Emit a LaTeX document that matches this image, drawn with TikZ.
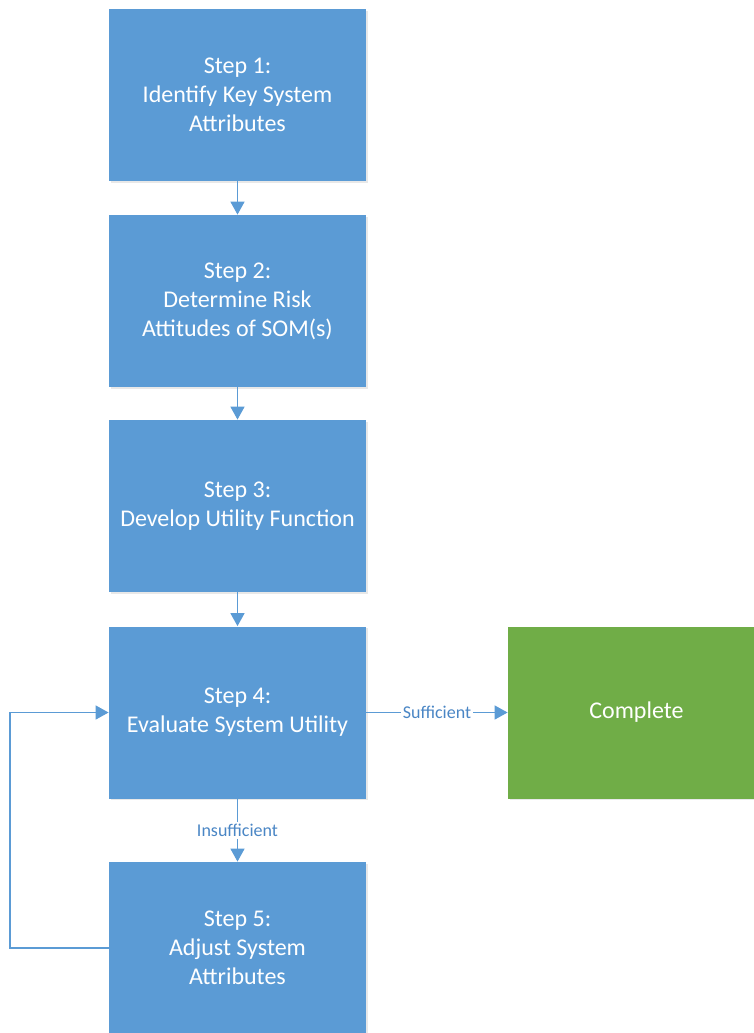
\documentclass[tikz,border=0pt]{standalone}
\usepackage{fontspec}
\setmainfont{Carlito}
\usetikzlibrary{arrows.meta,shadows}
\definecolor{stepblue}{HTML}{5B9BD5}
\definecolor{donegreen}{HTML}{70AD47}
\definecolor{flowblue}{HTML}{5B9BD5}
\definecolor{labelblue}{HTML}{4A86C5}
\tikzset{
  stepbox/.style={fill=stepblue, text=white, align=center, inner sep=0pt,
    minimum width=128.5pt, minimum height=86pt,
    drop shadow={opacity=0.18, shadow xshift=0.8pt, shadow yshift=-0.8pt}},
  donebox/.style={stepbox, fill=donegreen},
  flow/.style={draw=flowblue, line width=0.75pt, -{Triangle[width=7pt,length=6.5pt]}},
  flowlabel/.style={fill=white, text=labelblue, inner sep=1pt, font=\fontsize{9}{10}\selectfont}
}
\begin{document}
\begin{tikzpicture}[x=0.5pt, y=-0.5pt, every node/.style={font=\fontsize{12}{14.5}\selectfont}]
\useasboundingbox (0,0) rectangle (754,1033);
\clip (0,0) rectangle (754,1033);
\node[stepbox] (S1) at (237.5,95) {Step 1:\\Identify Key System\\Attributes};
\node[stepbox] (S2) at (237.5,301) {Step 2:\\Determine Risk\\Attitudes of SOM(s)};
\node[stepbox] (S3) at (237.5,506) {Step 3:\\Develop Utility Function};
\node[stepbox] (S4) at (237.5,712.5) {Step 4:\\Evaluate System Utility};
\node[stepbox] (S5) at (237.5,948) {Step 5:\\Adjust System\\Attributes};
\node[donebox] (C) at (636.5,712.5) {Complete};
\coordinate (L1) at (10,948);
\coordinate (L2) at (10,712.5);
\draw[flow] (S1) -- (S2);
\draw[flow] (S2) -- (S3);
\draw[flow] (S3) -- (S4);
\draw[flow] (S4) -- node[flowlabel]{Sufficient} (C);
\draw[flow] (S4) -- node[flowlabel]{Insufficient} (S5);
\draw[flow] (S5.west) -- (L1) -- (L2) -- (S4.west);
\end{tikzpicture}
\end{document}
